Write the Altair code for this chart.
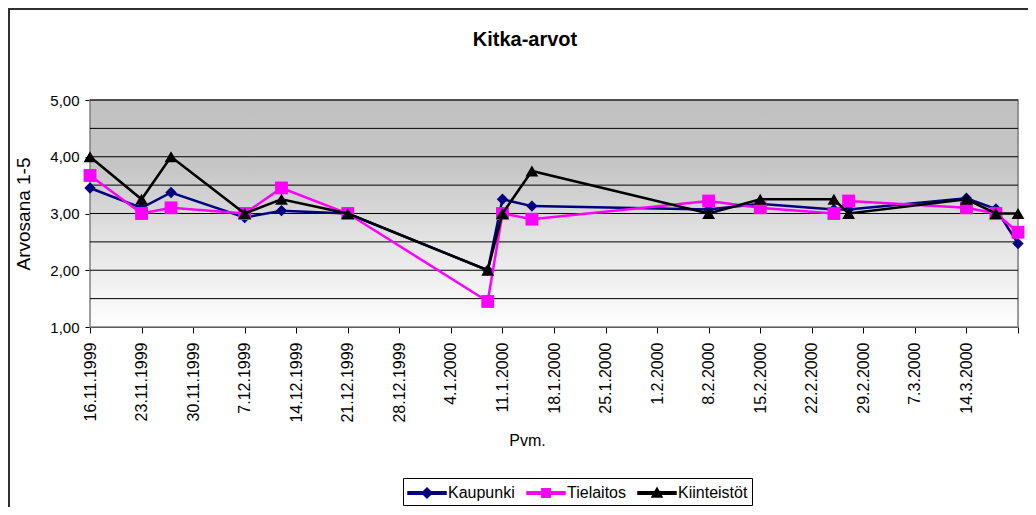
import altair as alt
import pandas as pd

series = ["Kaupunki", "Tielaitos", "Kiinteistöt"]
colors = ["#000080", "#ff00ff", "#000000"]
shapes = ["diamond", "square", "triangle-up"]

dates = ["1999-11-16", "1999-11-23", "1999-11-27", "1999-12-07", "1999-12-12",
         "1999-12-21", "2000-01-09", "2000-01-11", "2000-01-15", "2000-02-08",
         "2000-02-15", "2000-02-25", "2000-02-27", "2000-03-14", "2000-03-18",
         "2000-03-21"]

kaupunki = [3.45, 3.10, 3.37, 2.93, 3.05, 3.00, 2.00, 3.25, 3.13, 3.07,
            3.17, 3.07, 3.07, 3.27, 3.08, 2.47]
tielaitos = [3.67, 3.00, 3.10, 3.00, 3.45, 3.00, 1.45, 3.00, 2.90, 3.22,
             3.10, 3.00, 3.22, 3.10, 3.00, 2.67]
kiinteistot = [4.00, 3.25, 4.00, 3.00, 3.25, 3.00, 2.00, 3.00, 3.75, 3.00,
               3.25, 3.25, 3.00, 3.25, 3.00, 3.00]

tick_dates = ["1999-11-16", "1999-11-23", "1999-11-30", "1999-12-07", "1999-12-14",
              "1999-12-21", "1999-12-28", "2000-01-04", "2000-01-11", "2000-01-18",
              "2000-01-25", "2000-02-01", "2000-02-08", "2000-02-15", "2000-02-22",
              "2000-02-29", "2000-03-07", "2000-03-14", "2000-03-21"]
y_ticks = [1.0, 1.5, 2.0, 2.5, 3.0, 3.5, 4.0, 4.5, 5.0]

# legend glyphs: a short line with the series marker on it
legend_glyphs = [
    "M-1.9,-0.12H1.9V0.12H-1.9Z M0,-0.5L0.5,0L0,0.5L-0.5,0Z",
    "M-1.9,-0.12H1.9V0.12H-1.9Z M-0.42,-0.42H0.42V0.42H-0.42Z",
    "M-1.9,-0.12H1.9V0.12H-1.9Z M0,-0.5L0.5,0.4L-0.5,0.4Z",
]

FONT = "Liberation Sans"

rows = []
for name, vals in zip(series, [kaupunki, tielaitos, kiinteistot]):
    for d, v in zip(dates, vals):
        rows.append({"Pvm": d, "Arvo": v, "Sarja": name})
df = pd.DataFrame(rows)

bg_df = pd.DataFrame({"x0": [tick_dates[0]], "x1": [tick_dates[-1]],
                      "y0": [y_ticks[0]], "y1": [y_ticks[-1]]})
grid_df = pd.DataFrame({"g": y_ticks[1:]})


def dt(s):
    y, m, d = (int(p) for p in s.split("-"))
    return alt.DateTime(year=y, month=m, date=d, utc=True)


end_ms = int(pd.Timestamp(tick_dates[-1]).value // 10**6)
x_scale = alt.Scale(type="utc", domain=[dt(tick_dates[0]), dt(tick_dates[-1])], nice=False)
y_scale = alt.Scale(domain=[1, 5], nice=False, zero=False)

x_enc = alt.X(
    "Pvm:T",
    scale=x_scale,
    axis=alt.Axis(
        values=[dt(t) for t in tick_dates],
        format="%-d.%-m.%Y",
        labelExpr="datum.value >= " + str(end_ms) + " ? '' : datum.label",
        labelAngle=-90,
        labelFontSize=16,
        labelFont=FONT,
        labelColor="black",
        labelPadding=9,
        labelOverlap=False,
        tickSize=6,
        tickColor="black",
        domainColor="black",
        grid=False,
        title="Pvm.",
        titleFont=FONT,
        titleFontSize=16,
        titleFontWeight="normal",
        titleColor="black",
        titleX=437,
        titleY=113,
        titleBaseline="middle",
    ),
)
y_enc = alt.Y(
    "Arvo:Q",
    scale=y_scale,
    axis=alt.Axis(
        values=y_ticks,
        labelExpr="replace(format(datum.value, '.2f'), '.', ',')",
        labelFontSize=15,
        labelFont=FONT,
        labelColor="black",
        labelPadding=6,
        labelOverlap=False,
        tickSize=5,
        tickColor="black",
        domainColor="black",
        grid=False,
        title="Arvosana 1-5",
        titleFont=FONT,
        titleFontSize=19,
        titleFontWeight="normal",
        titleColor="black",
        titlePadding=16,
    ),
)

legend_props = dict(
    title=None,
    orient="none",
    direction="horizontal",
    legendX=313,
    legendY=378,
    strokeColor="black",
    fillColor="white",
    padding=4,
    labelFont=FONT,
    labelFontSize=16,
    labelColor="black",
    symbolSize=400,
    symbolOffset=9,
    labelOffset=10,
    columnPadding=9,
    symbolOpacity=1,
)

color_enc = alt.Color(
    "Sarja:N",
    scale=alt.Scale(domain=series, range=colors),
    legend=alt.Legend(**legend_props),
)

gradient = {
    "gradient": "linear",
    "x1": 0, "y1": 0, "x2": 0, "y2": 1,
    "stops": [
        {"offset": 0, "color": "#c0c0c0"},
        {"offset": 0.3, "color": "#c6c6c6"},
        {"offset": 0.6, "color": "#e2e2e2"},
        {"offset": 1, "color": "#ffffff"},
    ],
}

# outer chart frame (decoration only)
frame = (
    alt.Chart(bg_df)
    .mark_rect(filled=False, stroke="#303030", strokeWidth=2)
    .encode(
        x=alt.value(-81),
        x2=alt.value(1100),
        y=alt.value(-91),
        y2=alt.value(600),
    )
)

background = (
    alt.Chart(bg_df)
    .mark_rect(stroke="#808080", strokeWidth=1.5)
    .encode(
        x=alt.X("x0:T", scale=x_scale),
        x2="x1:T",
        y=alt.Y("y0:Q", scale=y_scale),
        y2="y1:Q",
        fill=alt.value(gradient),
    )
)

grid = (
    alt.Chart(grid_df)
    .mark_rule(color="black", strokeWidth=1)
    .encode(y=alt.Y("g:Q", scale=y_scale))
)

layers = [frame, background, grid]
for i, name in enumerate(series):
    base = alt.Chart(df).transform_filter(alt.datum.Sarja == name)
    layers.append(base.mark_line(strokeWidth=2.5).encode(x=x_enc, y=y_enc, color=color_enc))
    layers.append(
        base.mark_point(filled=True, opacity=1, size=165 if i else 130, shape=shapes[i]).encode(
            x=x_enc, y=y_enc, color=color_enc
        )
    )

# empty layer that only supplies the legend glyphs
legend_layer = (
    alt.Chart(df)
    .transform_filter("false")
    .mark_point(filled=True, opacity=1)
    .encode(
        x=x_enc,
        y=y_enc,
        color=color_enc,
        shape=alt.Shape(
            "Sarja:N",
            scale=alt.Scale(domain=series, range=legend_glyphs),
            legend=alt.Legend(**legend_props),
        ),
    )
)
layers.append(legend_layer)

chart = (
    alt.layer(*layers)
    .properties(
        width=928,
        height=227,
        autosize=alt.AutoSizeParams(type="none"),
        padding={"left": 82, "top": 92, "right": 10, "bottom": 180},
        title=alt.TitleParams(
            "Kitka-arvot",
            font=FONT,
            fontSize=20,
            fontWeight="bold",
            color="black",
            offset=-42,
            dx=-29,
        ),
    )
    .configure_view(stroke=None)
    .configure(background="white")
)

chart.save("out.html", embed_options={"renderer": "svg", "actions": False})
